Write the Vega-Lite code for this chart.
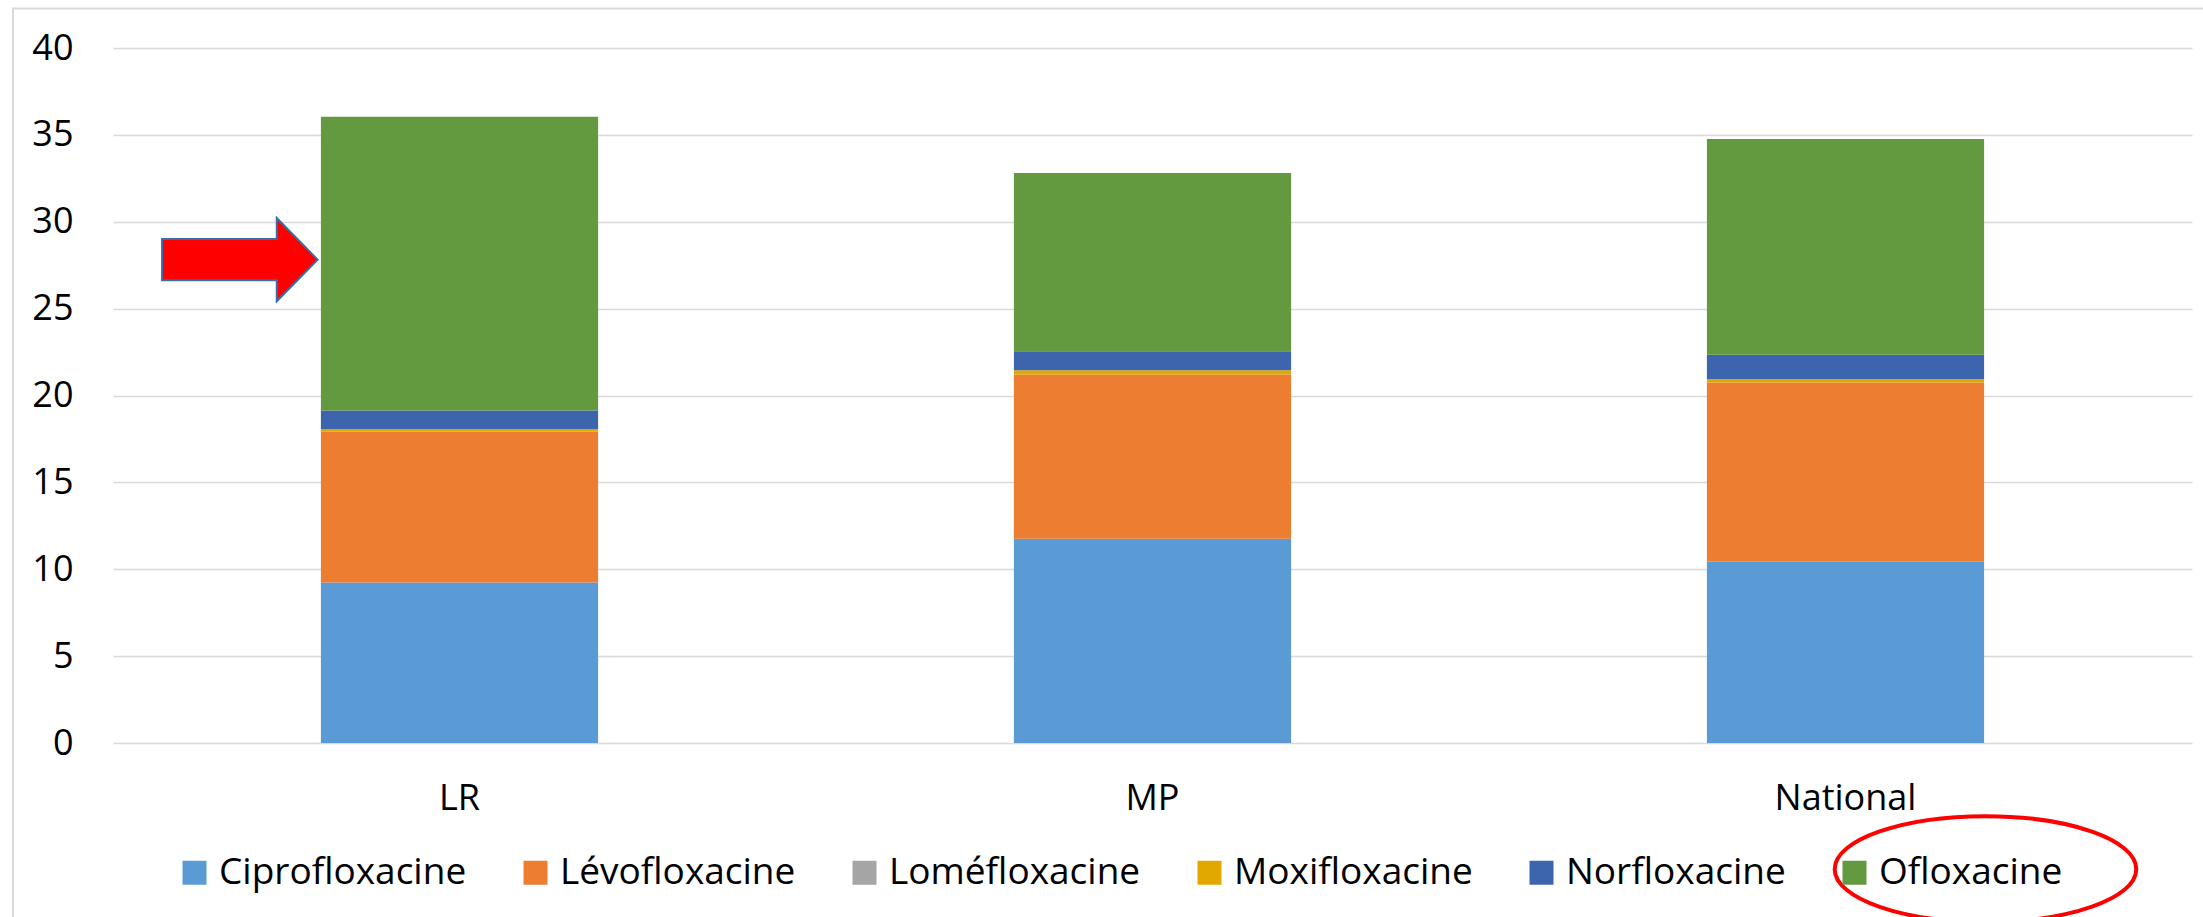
{
  "$schema": "https://vega.github.io/schema/vega-lite/v6.json",
  "width": 2079,
  "height": 695,
  "autosize": {"type": "none"},
  "padding": {"left": 113, "top": 48, "right": 11, "bottom": 174},
  "background": "white",
  "config": {
    "view": {"stroke": null},
    "font": "Open Sans",
    "axis": {"labelFont": "Open Sans", "labelColor": "#000000", "labelFontSize": 36, "domain": false, "ticks": false, "title": null},
    "legend": {"labelFont": "Open Sans"}
  },
  "datasets": {
    "bars": [
      {"region": "LR", "drug": "Ciprofloxacine", "k": 1, "value": 9.24},
      {"region": "LR", "drug": "Lévofloxacine", "k": 2, "value": 8.67},
      {"region": "LR", "drug": "Loméfloxacine", "k": 3, "value": 0},
      {"region": "LR", "drug": "Moxifloxacine", "k": 4, "value": 0.15},
      {"region": "LR", "drug": "Norfloxacine", "k": 5, "value": 1.08},
      {"region": "LR", "drug": "Ofloxacine", "k": 6, "value": 16.91},
      {"region": "MP", "drug": "Ciprofloxacine", "k": 1, "value": 11.76},
      {"region": "MP", "drug": "Lévofloxacine", "k": 2, "value": 9.45},
      {"region": "MP", "drug": "Loméfloxacine", "k": 3, "value": 0},
      {"region": "MP", "drug": "Moxifloxacine", "k": 4, "value": 0.25},
      {"region": "MP", "drug": "Norfloxacine", "k": 5, "value": 1.08},
      {"region": "MP", "drug": "Ofloxacine", "k": 6, "value": 10.27},
      {"region": "National", "drug": "Ciprofloxacine", "k": 1, "value": 10.43},
      {"region": "National", "drug": "Lévofloxacine", "k": 2, "value": 10.32},
      {"region": "National", "drug": "Loméfloxacine", "k": 3, "value": 0},
      {"region": "National", "drug": "Moxifloxacine", "k": 4, "value": 0.18},
      {"region": "National", "drug": "Norfloxacine", "k": 5, "value": 1.42},
      {"region": "National", "drug": "Ofloxacine", "k": 6, "value": 12.41}
    ],
    "arrow": [{"pos": 0.183, "val": 27.82}],
    "ellipse": [{"pos": 2.702, "val": -7.26}],
    "frame": [{"x0": -0.1443, "x1": 3.5, "y0": -11, "y1": 42.28}]
  },
  "layer": [
    {
      "data": {"name": "frame"},
      "mark": {"type": "rect", "fill": null, "stroke": "#d9d9d9", "strokeWidth": 2, "clip": false},
      "encoding": {
        "x": {"field": "x0", "type": "quantitative", "scale": {"domain": [0, 3], "nice": false, "zero": false}, "axis": null},
        "x2": {"field": "x1"},
        "y": {"field": "y0", "type": "quantitative", "scale": {"domain": [0, 40], "nice": false}},
        "y2": {"field": "y1"}
      }
    },
    {
      "data": {"name": "bars"},
      "mark": {"type": "bar"},
      "encoding": {
        "x": {
          "field": "region", "type": "nominal",
          "scale": {"paddingInner": 0.6, "paddingOuter": 0.3},
          "axis": {"labelAngle": 0, "labelPadding": 38, "grid": false}
        },
        "y": {
          "field": "value", "type": "quantitative", "stack": "zero",
          "scale": {"domain": [0, 40], "nice": false},
          "axis": {"values": [0, 5, 10, 15, 20, 25, 30, 35, 40], "labelPadding": 40, "grid": true, "gridColor": "#d9d9d9", "gridWidth": 1.5}
        },
        "color": {
          "field": "drug", "type": "nominal",
          "scale": {
            "domain": ["Ciprofloxacine", "Lévofloxacine", "Loméfloxacine", "Moxifloxacine", "Norfloxacine", "Ofloxacine"],
            "range": ["#5B9BD5", "#ED7D31", "#A5A5A5", "#E0A800", "#3D65AD", "#639A3F"]
          },
          "legend": {
            "orient": "none", "legendX": 63, "legendY": 806,
            "direction": "horizontal", "title": null,
            "symbolType": "square", "symbolSize": 576, "symbolStrokeWidth": 0,
            "labelFontSize": 37, "labelColor": "#000000", "labelOffset": 6,
            "columnPadding": 50, "padding": 0, "labelLimit": 0
          }
        },
        "order": {"field": "k", "type": "quantitative"}
      }
    },
    {
      "data": {"name": "arrow"},
      "mark": {
        "type": "point", "filled": true, "opacity": 1, "fill": "#FF0000", "stroke": "#3A6EA5", "strokeWidth": 2, "size": 24180,
        "shape": "M -1 -0.264 L 0.475 -0.264 L 0.475 -0.536 L 1 0 L 0.475 0.536 L 0.475 0.264 L -1 0.264 Z"
      },
      "encoding": {
        "x": {"field": "pos", "type": "quantitative", "scale": {"domain": [0, 3], "nice": false, "zero": false}, "axis": null},
        "y": {"field": "val", "type": "quantitative", "scale": {"domain": [0, 40], "nice": false}}
      }
    },
    {
      "data": {"name": "ellipse"},
      "mark": {
        "type": "point", "filled": false, "opacity": 1, "stroke": "#FF0000", "strokeWidth": 4, "size": 90963,
        "shape": "M -1 0 A 1 0.351 0 1 0 1 0 A 1 0.351 0 1 0 -1 0 Z"
      },
      "encoding": {
        "x": {"field": "pos", "type": "quantitative", "scale": {"domain": [0, 3], "nice": false, "zero": false}, "axis": null},
        "y": {"field": "val", "type": "quantitative", "scale": {"domain": [0, 40], "nice": false}}
      }
    }
  ],
  "resolve": {"scale": {"x": "independent"}, "axis": {"x": "independent"}}
}
